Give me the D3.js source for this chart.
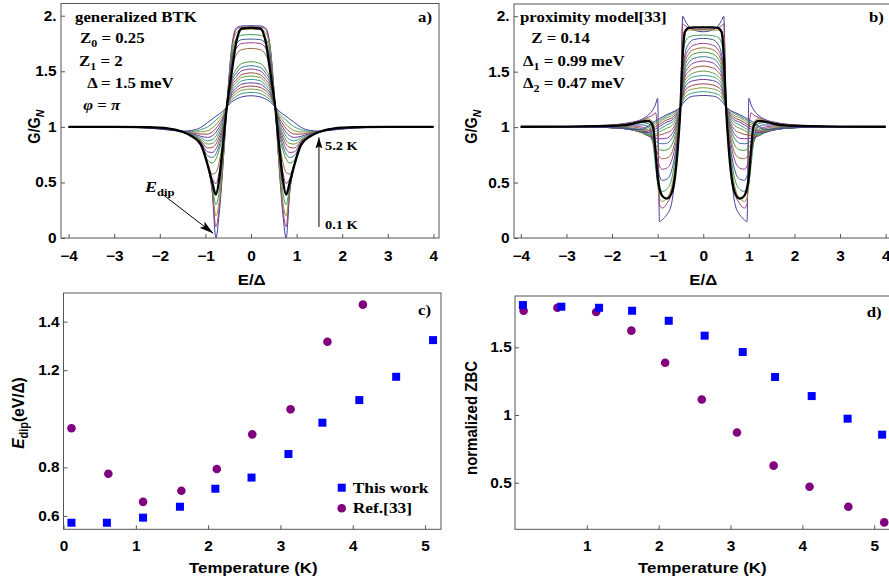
<!DOCTYPE html>
<html>
<head>
<meta charset="utf-8">
<title>Conductance spectra and dip / ZBC versus temperature</title>
<style>
  body { margin: 0; background: #fff; }
  svg { display: block; }
</style>
</head>
<body>
<svg width="889" height="585"></svg>
<script src="https://d3js.org/d3.v7.min.js"></script>
<script>
// ---- data (E >= 0 half, curves are mirror symmetric) ----
var eGridA = [0, 0.2, 0.32, 0.42, 0.53, 0.62, 0.7, 0.77, 0.85, 0.95, 1.1, 1.3, 1.5, 1.8, 2.3, 3.0, 4.0];
var curvesA = [
  [1.91, 1.908, 1.89, 1.725, 1.18, 0.62, 0.21, 0.0, 0.41, 0.655, 0.84, 0.915, 0.955, 0.985, 0.997, 1.0, 1.0],
  [1.90, 1.898, 1.875, 1.71, 1.18, 0.64, 0.26, 0.10, 0.43, 0.655, 0.84, 0.915, 0.955, 0.985, 0.997, 1.0, 1.0],
  [1.88, 1.877, 1.85, 1.69, 1.18, 0.67, 0.32, 0.20, 0.45, 0.655, 0.84, 0.915, 0.955, 0.985, 0.997, 1.0, 1.0],
  [1.83, 1.825, 1.795, 1.65, 1.18, 0.72, 0.41, 0.30, 0.47, 0.655, 0.84, 0.915, 0.955, 0.985, 0.997, 1.0, 1.0],
  [1.79, 1.785, 1.75, 1.61, 1.18, 0.77, 0.50, 0.40, 0.50, 0.66, 0.84, 0.915, 0.955, 0.985, 0.997, 1.0, 1.0],
  [1.757, 1.75, 1.71, 1.58, 1.18, 0.82, 0.59, 0.49, 0.535, 0.665, 0.84, 0.915, 0.955, 0.985, 0.997, 1.0, 1.0],
  [1.706, 1.695, 1.65, 1.53, 1.18, 0.87, 0.68, 0.59, 0.575, 0.67, 0.845, 0.917, 0.955, 0.984, 0.996, 1.0, 1.0],
  [1.586, 1.57, 1.52, 1.43, 1.18, 0.93, 0.79, 0.71, 0.675, 0.70, 0.85, 0.92, 0.955, 0.983, 0.996, 1.0, 1.0],
  [1.55, 1.535, 1.485, 1.41, 1.18, 0.955, 0.83, 0.755, 0.725, 0.74, 0.855, 0.922, 0.955, 0.982, 0.995, 1.0, 1.0],
  [1.52, 1.505, 1.455, 1.39, 1.18, 0.98, 0.87, 0.80, 0.77, 0.775, 0.865, 0.925, 0.955, 0.981, 0.995, 1.0, 1.0],
  [1.486, 1.47, 1.425, 1.365, 1.18, 1.0, 0.905, 0.845, 0.815, 0.81, 0.875, 0.928, 0.955, 0.98, 0.994, 0.999, 1.0],
  [1.457, 1.445, 1.40, 1.345, 1.18, 1.02, 0.935, 0.88, 0.85, 0.845, 0.885, 0.932, 0.955, 0.979, 0.994, 0.999, 1.0],
  [1.427, 1.415, 1.375, 1.325, 1.18, 1.04, 0.965, 0.915, 0.885, 0.875, 0.90, 0.936, 0.956, 0.978, 0.993, 0.999, 1.0],
  [1.396, 1.385, 1.35, 1.305, 1.18, 1.06, 0.995, 0.95, 0.92, 0.905, 0.915, 0.941, 0.957, 0.977, 0.993, 0.999, 1.0],
  [1.367, 1.355, 1.325, 1.285, 1.18, 1.08, 1.025, 0.985, 0.955, 0.935, 0.935, 0.947, 0.958, 0.976, 0.992, 0.999, 1.0],
  [1.34, 1.33, 1.30, 1.265, 1.18, 1.10, 1.055, 1.02, 0.99, 0.965, 0.955, 0.953, 0.959, 0.975, 0.992, 0.999, 1.0],
  [1.31, 1.30, 1.275, 1.245, 1.18, 1.12, 1.085, 1.06, 1.03, 1.0, 0.975, 0.96, 0.96, 0.973, 0.991, 0.999, 1.0],
  [1.28, 1.27, 1.25, 1.225, 1.18, 1.14, 1.115, 1.095, 1.07, 1.04, 0.995, 0.968, 0.961, 0.972, 0.99, 0.998, 1.0]
];
var blackA = [1.89, 1.885, 1.77, 1.50, 1.18, 0.82, 0.52, 0.39, 0.50, 0.655, 0.84, 0.915, 0.955, 0.985, 0.997, 1.0, 1.0];

var eGridB = [0, 0.2, 0.32, 0.4, 0.45, 0.5, 0.56, 0.62, 0.7, 0.8, 0.9, 0.96, 1.0, 1.05, 1.1, 1.2, 1.35, 1.55, 1.8, 2.3, 3.0, 4.0];
var curvesB = [
  [1.86, 1.875, 1.91, 1.96, 2.0, 1.18, 0.85, 0.55, 0.30, 0.21, 0.165, 0.147, 1.26, 1.2, 1.16, 1.11, 1.07, 1.045, 1.028, 1.012, 1.004, 1.0],
  [1.88, 1.885, 1.895, 1.915, 1.93, 1.18, 0.87, 0.60, 0.40, 0.31, 0.27, 0.30, 0.95, 1.13, 1.11, 1.09, 1.06, 1.04, 1.025, 1.011, 1.004, 1.0],
  [1.875, 1.875, 1.875, 1.87, 1.80, 1.18, 0.90, 0.64, 0.45, 0.36, 0.33, 0.36, 0.48, 0.80, 1.04, 1.075, 1.055, 1.037, 1.022, 1.01, 1.003, 1.0],
  [1.83, 1.825, 1.81, 1.76, 1.62, 1.18, 0.92, 0.70, 0.52, 0.44, 0.42, 0.44, 0.50, 0.66, 0.85, 1.03, 1.04, 1.03, 1.02, 1.008, 1.002, 1.0],
  [1.80, 1.79, 1.75, 1.66, 1.50, 1.18, 0.93, 0.75, 0.60, 0.53, 0.52, 0.56, 0.63, 0.76, 0.88, 1.0, 1.02, 1.02, 1.015, 1.006, 1.002, 1.0],
  [1.755, 1.74, 1.70, 1.62, 1.47, 1.18, 0.97, 0.82, 0.69, 0.63, 0.62, 0.65, 0.70, 0.78, 0.86, 0.97, 1.0, 1.01, 1.008, 1.004, 1.001, 1.0],
  [1.715, 1.70, 1.66, 1.58, 1.44, 1.18, 1.0, 0.87, 0.76, 0.72, 0.715, 0.73, 0.76, 0.81, 0.86, 0.95, 0.985, 1.0, 1.003, 1.002, 1.001, 1.0],
  [1.675, 1.66, 1.62, 1.545, 1.42, 1.18, 1.03, 0.92, 0.83, 0.795, 0.79, 0.80, 0.815, 0.84, 0.87, 0.935, 0.97, 0.99, 0.998, 1.0, 1.0, 1.0],
  [1.635, 1.62, 1.58, 1.51, 1.40, 1.18, 1.05, 0.96, 0.89, 0.855, 0.85, 0.852, 0.86, 0.875, 0.89, 0.925, 0.96, 0.985, 0.995, 0.999, 1.0, 1.0],
  [1.595, 1.58, 1.54, 1.48, 1.38, 1.18, 1.07, 0.99, 0.93, 0.90, 0.895, 0.895, 0.897, 0.90, 0.905, 0.92, 0.955, 0.98, 0.993, 0.998, 1.0, 1.0],
  [1.55, 1.535, 1.50, 1.45, 1.36, 1.18, 1.09, 1.02, 0.97, 0.95, 0.935, 0.93, 0.925, 0.92, 0.918, 0.92, 0.95, 0.977, 0.991, 0.998, 1.0, 1.0],
  [1.505, 1.49, 1.46, 1.42, 1.33, 1.18, 1.10, 1.05, 1.01, 0.99, 0.97, 0.955, 0.945, 0.937, 0.93, 0.925, 0.95, 0.975, 0.99, 0.998, 1.0, 1.0],
  [1.465, 1.455, 1.43, 1.39, 1.31, 1.18, 1.115, 1.07, 1.04, 1.02, 0.995, 0.98, 0.97, 0.96, 0.95, 0.935, 0.952, 0.974, 0.99, 0.998, 1.0, 1.0],
  [1.43, 1.42, 1.40, 1.36, 1.29, 1.18, 1.13, 1.09, 1.06, 1.045, 1.02, 1.005, 0.995, 0.983, 0.972, 0.95, 0.955, 0.974, 0.99, 0.998, 1.0, 1.0],
  [1.39, 1.38, 1.36, 1.33, 1.27, 1.18, 1.14, 1.11, 1.08, 1.065, 1.04, 1.025, 1.015, 1.003, 0.99, 0.965, 0.96, 0.975, 0.99, 0.998, 1.0, 1.0],
  [1.355, 1.345, 1.33, 1.30, 1.25, 1.18, 1.15, 1.125, 1.10, 1.085, 1.06, 1.045, 1.035, 1.022, 1.01, 0.98, 0.965, 0.977, 0.99, 0.998, 1.0, 1.0],
  [1.32, 1.31, 1.295, 1.27, 1.23, 1.18, 1.16, 1.14, 1.12, 1.10, 1.075, 1.062, 1.052, 1.04, 1.027, 1.0, 0.972, 0.978, 0.99, 0.998, 1.0, 1.0],
  [1.285, 1.28, 1.265, 1.235, 1.21, 1.18, 1.16, 1.145, 1.13, 1.113, 1.09, 1.077, 1.067, 1.055, 1.043, 1.015, 0.98, 0.98, 0.99, 0.998, 1.0, 1.0]
];
var blackB = [1.90, 1.90, 1.895, 1.86, 1.65, 1.18, 0.80, 0.55, 0.40, 0.355, 0.38, 0.45, 0.55, 0.80, 1.0, 1.055, 1.05, 1.03, 1.015, 1.009, 1.005, 1.003];

var curveColors = ['#3f3d99', '#993d71', '#998b3d', '#3d9956', '#3d5a99', '#993d90', '#996c3d', '#43993d', '#3d7999',
                   '#833d99', '#994e3d', '#62993d', '#3d9799', '#653d99', '#993d4b', '#81993d', '#3d997c', '#463d99'];

// panel c: dip energy vs temperature
var tempWorkC = [0.11, 0.6, 1.1, 1.61, 2.1, 2.6, 3.11, 3.58, 4.09, 4.6, 5.11];
var edipWork  = [0.572, 0.572, 0.593, 0.638, 0.712, 0.758, 0.855, 0.984, 1.077, 1.173, 1.324];
var tempRefC  = [0.11, 0.62, 1.1, 1.63, 2.12, 2.61, 3.14, 3.65, 4.14];
var edipRef   = [0.961, 0.774, 0.658, 0.704, 0.793, 0.936, 1.039, 1.317, 1.47];

// panel d: normalized zero bias conductance vs temperature
var tempWorkD = [0.11, 0.645, 1.17, 1.63, 2.14, 2.64, 3.17, 3.62, 4.13, 4.63, 5.11];
var zbcWork   = [1.812, 1.80, 1.792, 1.770, 1.696, 1.586, 1.465, 1.281, 1.140, 0.973, 0.855];
var tempRefD  = [0.12, 0.59, 1.13, 1.62, 2.09, 2.60, 3.09, 3.60, 4.10, 4.64, 5.14];
var zbcRef    = [1.770, 1.792, 1.761, 1.623, 1.386, 1.115, 0.871, 0.626, 0.470, 0.323, 0.207];

// tick values and labels
var eTicks = [-4, -3, -2, -1, 0, 1, 2, 3, 4];
var eTickLabels = ['\u22124', '\u22123', '\u22122', '\u22121', '0', '1', '2', '3', '4'];
var gTicks = [0, 0.5, 1, 1.5, 2];
var gTickLabels = ['0', '0.5', '1', '1.5', '2.'];
var tTicksC = [0, 1, 2, 3, 4, 5];
var tTickLabelsC = ['0', '1', '2', '3', '4', '5'];
var edipTicks = [0.6, 0.8, 1.2, 1.4];
var edipTickLabels = ['0.6', '0.8', '1.2', '1.4'];
var tTicksD = [1, 2, 3, 4, 5];
var tTickLabelsD = ['1', '2', '3', '4', '5'];
var zbcTicks = [0.5, 1, 1.5];
var zbcTickLabels = ['0.5', '1', '1.5'];

// ---- drawing ----
var SANS = '"Liberation Sans", Arial, Helvetica, sans-serif';
var SERIF = '"Liberation Serif", "Times New Roman", serif';
var FRAME = '#555';
var svg = d3.select('svg');

var xA = d3.scaleLinear().domain([-4.167, 4.123]).range([61, 439]);
var yA = d3.scaleLinear().domain([0, 2.11]).range([238, 3.5]);
var xB = d3.scaleLinear().domain([-4.15, 4.15]).range([514, 892.5]);
var yB = d3.scaleLinear().domain([0, 2.11]).range([238, 4]);
var xC = d3.scaleLinear().domain([0, 5.22]).range([63.5, 441]);
var yC = d3.scaleLinear().domain([0.545, 1.518]).range([529.3, 293]);
var xD = d3.scaleLinear().domain([0, 5.22]).range([515, 890]);
var yD = d3.scaleLinear().domain([0.156, 1.879]).range([529.3, 296]);

var clipCount = 0;
function frame(xs, ys, xTicks, xLabels, yTicks, yLabels, padX, padY) {
  var x0 = xs.range()[0], x1 = xs.range()[1];
  var yb = ys.range()[0], yt = ys.range()[1];
  var id = 'clip' + (clipCount++);
  svg.append('clipPath').attr('id', id)
    .append('rect').attr('x', x0).attr('y', yt).attr('width', x1 - x0).attr('height', yb - yt);

  var ax = svg.append('g').attr('transform', 'translate(0,' + yb + ')')
    .call(d3.axisBottom(xs).tickValues(xTicks).tickFormat(function(d, i) { return xLabels[i]; })
      .tickSizeInner(-4).tickSizeOuter(0).tickPadding(padX));
  var ay = svg.append('g').attr('transform', 'translate(' + x0 + ',0)')
    .call(d3.axisLeft(ys).tickValues(yTicks).tickFormat(function(d, i) { return yLabels[i]; })
      .tickSizeInner(-4).tickSizeOuter(0).tickPadding(padY));
  [ax, ay].forEach(function(a) {
    a.select('.domain').remove();
    a.attr('font-family', SANS).attr('font-size', 14).attr('font-weight', 'bold');
    a.selectAll('line').attr('stroke', FRAME);
    a.selectAll('text').attr('fill', '#000').attr('transform', 'scale(1.1,1)');
  });

  svg.append('rect').attr('x', x0).attr('y', yt).attr('width', x1 - x0).attr('height', yb - yt)
    .attr('fill', 'none').attr('stroke', FRAME).attr('stroke-width', 1);
  return 'url(#' + id + ')';
}

function mirror(grid, vals) {
  var pts = [];
  for (var i = grid.length - 1; i > 0; i--) pts.push([-grid[i], vals[i]]);
  for (var j = 0; j < grid.length; j++) pts.push([grid[j], vals[j]]);
  return pts;
}

function spectra(xs, ys, grid, curves, black, clip) {
  var line = d3.line()
    .x(function(d) { return xs(d[0]); })
    .y(function(d) { return ys(d[1]); })
    .curve(d3.curveMonotoneX);
  var g = svg.append('g').attr('clip-path', clip).attr('fill', 'none');
  g.selectAll('path.temp')
    .data(curves)
    .enter().append('path')
      .attr('class', 'temp')
      .attr('stroke', function(d, i) { return curveColors[i % curveColors.length]; })
      .attr('stroke-width', 1)
      .attr('d', function(d) { return line(mirror(grid, d)); });
  g.append('path')
    .attr('stroke', '#000')
    .attr('stroke-width', 2.3)
    .attr('d', line(mirror(grid, black)));
}

function note(x, y, font, size, anchor, rotated) {
  var tr = 'translate(' + x + ',' + y + ')' + (rotated ? ' rotate(-90) scale(1,1.12)' : (font === SERIF ? ' scale(1.2,1)' : ' scale(1.12,1)'));
  return svg.append('text')
    .attr('transform', tr)
    .attr('font-family', font).attr('font-size', size).attr('font-weight', 'bold')
    .attr('text-anchor', anchor || 'start')
    .attr('fill', '#000');
}
function span(t, s, o) {
  o = o || {};
  var ts = t.append('tspan').text(s);
  if (o.italic) ts.attr('font-style', 'italic');
  if (o.size) ts.attr('font-size', o.size);
  if (o.dy) ts.attr('dy', o.dy);
  return t;
}

// arrow heads
var defs = svg.append('defs');
defs.append('marker').attr('id', 'headBig')
  .attr('viewBox', '0 0 14 8').attr('refX', 14).attr('refY', 4)
  .attr('markerWidth', 14).attr('markerHeight', 8).attr('markerUnits', 'userSpaceOnUse')
  .attr('orient', 'auto')
  .append('path').attr('d', 'M0,0 L14,4 L0,8 L3,4 Z').attr('fill', '#000');
defs.append('marker').attr('id', 'headSmall')
  .attr('viewBox', '0 0 11 7').attr('refX', 11).attr('refY', 3.5)
  .attr('markerWidth', 11).attr('markerHeight', 7).attr('markerUnits', 'userSpaceOnUse')
  .attr('orient', 'auto')
  .append('path').attr('d', 'M0,0 L11,3.5 L0,7 L2,3.5 Z').attr('fill', '#000');

// ---- panel a ----
var clipA = frame(xA, yA, eTicks, eTickLabels, gTicks, gTickLabels, 13, 4);
spectra(xA, yA, eGridA, curvesA, blackA, clipA);

span(note(75, 21.7, SERIF, 14), 'generalized BTK');
span(span(span(note(80, 43.3, SERIF, 14), 'Z'), '0', { size: 10, dy: 4 }), ' = 0.25', { dy: -4 });
span(span(span(note(79, 66, SERIF, 14), 'Z'), '1', { size: 10, dy: 4 }), ' = 2', { dy: -4 });
span(note(87.3, 88.3, SERIF, 14), '\u0394 = 1.5 meV');
span(span(span(note(83.3, 110, SERIF, 14), '\u03C6', { italic: true }), ' = '), '\u03C0', { italic: true });
span(note(418, 22, SERIF, 14), 'a)');

span(span(note(145, 192, SERIF, 15), 'E', { italic: true }), 'dip', { size: 10.5, dy: 4 });
svg.append('line')
  .attr('x1', xA(-1.92)).attr('y1', yA(0.387)).attr('x2', xA(-0.83)).attr('y2', yA(0.042))
  .attr('stroke', '#000').attr('stroke-width', 1).attr('marker-end', 'url(#headBig)');
svg.append('line')
  .attr('x1', xA(1.49)).attr('y1', yA(0.10)).attr('x2', xA(1.49)).attr('y2', yA(0.905))
  .attr('stroke', '#000').attr('stroke-width', 1).attr('marker-end', 'url(#headSmall)');
span(note(325, 150, SERIF, 12), '5.2 K');
span(note(325, 228.5, SERIF, 12), '0.1 K');

span(note(251.7, 284.5, SANS, 15, 'middle'), 'E/\u0394');
span(span(note(39.5, 126.7, SANS, 14.5, 'middle', true), 'G/G'), 'N', { italic: true, size: 10.5, dy: 4 });

// ---- panel b ----
var clipB = frame(xB, yB, eTicks, eTickLabels, gTicks, gTickLabels, 13, 4);
spectra(xB, yB, eGridB, curvesB, blackB, clipB);

span(note(520, 21.7, SERIF, 14), 'proximity model[33]');
span(note(531.3, 43.3, SERIF, 14), 'Z = 0.14');
span(span(span(note(523, 66, SERIF, 14), '\u0394'), '1', { size: 10, dy: 4 }), ' = 0.99 meV', { dy: -4 });
span(span(span(note(523, 88.3, SERIF, 14), '\u0394'), '2', { size: 10, dy: 4 }), ' = 0.47 meV', { dy: -4 });
span(note(869, 22, SERIF, 14), 'b)');

span(note(703.3, 284.5, SANS, 15, 'middle'), 'E/\u0394');
span(span(note(477, 126.7, SANS, 14.5, 'middle', true), 'G/G'), 'N', { italic: true, size: 10.5, dy: 4 });

// ---- panel c ----
frame(xC, yC, tTicksC, tTickLabelsC, edipTicks, edipTickLabels, 12, 3.5);
var sq = 8, rad = 4.3;
svg.append('g').selectAll('circle')
  .data(tempRefC.map(function(t, i) { return [t, edipRef[i]]; }))
  .enter().append('circle')
    .attr('cx', function(d) { return xC(d[0]); })
    .attr('cy', function(d) { return yC(d[1]); })
    .attr('r', rad).attr('fill', '#800080');
svg.append('g').selectAll('rect')
  .data(tempWorkC.map(function(t, i) { return [t, edipWork[i]]; }))
  .enter().append('rect')
    .attr('x', function(d) { return xC(d[0]) - sq / 2; })
    .attr('y', function(d) { return yC(d[1]) - sq / 2; })
    .attr('width', sq).attr('height', sq).attr('fill', '#0000ff');

svg.append('rect').attr('x', 341.7 - sq / 2).attr('y', 487.7 - sq / 2).attr('width', sq).attr('height', sq).attr('fill', '#0000ff');
svg.append('circle').attr('cx', 341.7).attr('cy', 508.3).attr('r', rad).attr('fill', '#800080');
span(note(352.7, 492.7, SERIF, 14.5), 'This work');
span(note(352.7, 513.3, SERIF, 14.5), 'Ref.[33]');
span(note(418, 315, SERIF, 14), 'c)');

span(note(253.3, 572.5, SANS, 15, 'middle'), 'Temperature (K)');
span(span(span(note(24, 413, SANS, 15.5, 'middle', true), 'E', { italic: true }), 'dip', { size: 11, dy: 4 }), '(eV/\u0394)', { dy: -4 });

// ---- panel d ----
frame(xD, yD, tTicksD, tTickLabelsD, zbcTicks, zbcTickLabels, 12, 3);
svg.append('g').selectAll('circle')
  .data(tempRefD.map(function(t, i) { return [t, zbcRef[i]]; }))
  .enter().append('circle')
    .attr('cx', function(d) { return xD(d[0]); })
    .attr('cy', function(d) { return yD(d[1]); })
    .attr('r', rad).attr('fill', '#800080');
svg.append('g').selectAll('rect')
  .data(tempWorkD.map(function(t, i) { return [t, zbcWork[i]]; }))
  .enter().append('rect')
    .attr('x', function(d) { return xD(d[0]) - sq / 2; })
    .attr('y', function(d) { return yD(d[1]) - sq / 2; })
    .attr('width', sq).attr('height', sq).attr('fill', '#0000ff');
span(note(866.7, 317, SERIF, 14), 'd)');

span(note(702.3, 572.5, SANS, 15, 'middle'), 'Temperature (K)');
span(note(477, 418, SANS, 15, 'middle', true), 'normalized ZBC');
</script>
</body>
</html>
